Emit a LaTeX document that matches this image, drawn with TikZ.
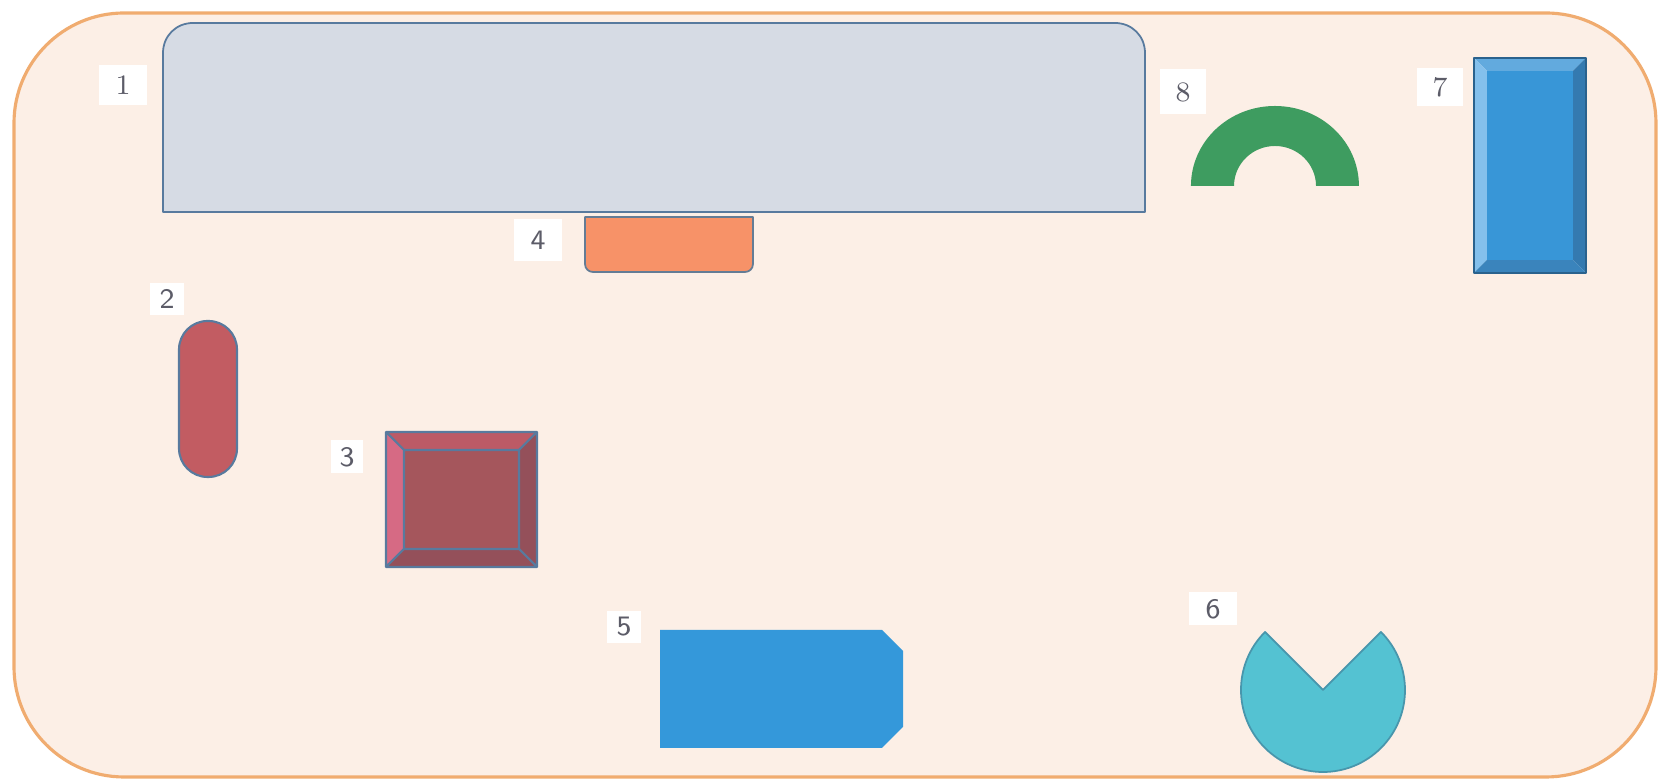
\documentclass[tikz,border=0pt]{standalone}
\usepackage{tikz}
\definecolor{framefill}{RGB}{252,239,230}
\definecolor{frameline}{RGB}{240,172,112}
\definecolor{slateline}{RGB}{88,122,158}
\definecolor{panelgray}{RGB}{214,219,228}
\definecolor{salmon}{RGB}{247,146,104}
\definecolor{pillred}{RGB}{194,92,98}
\definecolor{bevtop}{RGB}{188,90,102}
\definecolor{bevleft}{RGB}{214,106,132}
\definecolor{bevmid}{RGB}{165,86,92}
\definecolor{bevdark}{RGB}{148,80,90}
\definecolor{tagblue}{RGB}{52,152,218}
\definecolor{pieteal}{RGB}{84,194,210}
\definecolor{pieline}{RGB}{72,150,172}
\definecolor{archgreen}{RGB}{62,156,96}
\definecolor{bluetop}{RGB}{98,170,222}
\definecolor{blueleft}{RGB}{132,192,236}
\definecolor{bluemid}{RGB}{56,150,215}
\definecolor{blueright}{RGB}{52,122,176}
\definecolor{bluebot}{RGB}{58,132,188}
\definecolor{labelgray}{RGB}{92,92,104}

\begin{document}
\begin{tikzpicture}[x=0.01cm,y=-0.01cm,line join=round,
    numlabel/.style={fill=white,inner sep=0pt,minimum width=0.42cm,
      minimum height=0.38cm,text=labelgray,font=\footnotesize}]
        \useasboundingbox (0,0) rectangle (1659,780);
        \draw[frameline,fill=framefill,line width=0.9pt,rounded corners=1.1cm]
          (14,13) rectangle (1656,777);
        % 1: panel with rounded top corners
        \draw[slateline,fill=panelgray,line width=0.5pt]
          (163,212)--(163,53) .. controls (163,36) and (176,23) .. (193,23)
          --(1115,23) .. controls (1132,23) and (1145,36) .. (1145,53)--(1145,212)--cycle;
        % 4: tab below the panel
        \draw[slateline!70!gray,fill=salmon,line width=0.5pt]
          (585,217)--(753,217)--(753,264) .. controls (753,269) and (749,272) .. (745,272)
          --(593,272) .. controls (589,272) and (585,269) .. (585,264)--cycle;
        % 2: pill
        \draw[slateline,fill=pillred,line width=0.6pt,rounded corners=0.285cm]
          (179,321) rectangle (237,477);
        % 3: bevelled square
        \fill[bevtop] (386,432)--(537,432)--(519,450)--(404,450)--cycle;
        \fill[bevleft] (386,432)--(404,450)--(404,549)--(386,567)--cycle;
        \fill[bevdark] (537,432)--(537,567)--(519,549)--(519,450)--cycle;
        \fill[bevdark] (386,567)--(404,549)--(519,549)--(537,567)--cycle;
        \fill[bevmid] (404,450) rectangle (519,549);
        \draw[slateline,line width=0.6pt] (386,432) rectangle (537,567)
          (404,450) rectangle (519,549)
          (386,432)--(404,450) (537,432)--(519,450)
          (386,567)--(404,549) (537,567)--(519,549);
        % 5: snipped tag
        \fill[tagblue] (660,630)--(882,630)--(903,651)--(903,727)--(882,748)--(660,748)--cycle;
        % 6: pie with a notch on top
        \coordinate (pie) at (1323,690);
        \draw[pieline,fill=pieteal,line width=0.5pt]
          (pie)--++(-45:82) arc[start angle=-45,end angle=225,radius=82]--cycle;
        % 8: half ring
        \coordinate (arch) at (1275,186);
        \fill[archgreen] ([xshift=-0.84cm]arch) arc[start angle=180,end angle=360,x radius=84,y radius=80]
          --([xshift=0.41cm]arch) arc[start angle=360,end angle=180,x radius=41,y radius=40]--cycle;
        % 7: bevelled upright box
        \fill[bluetop] (1474,58)--(1586,58)--(1573,71)--(1487,71)--cycle;
        \fill[blueleft] (1474,58)--(1487,71)--(1487,260)--(1474,273)--cycle;
        \fill[blueright] (1586,58)--(1586,273)--(1573,260)--(1573,71)--cycle;
        \fill[bluebot] (1474,273)--(1487,260)--(1573,260)--(1586,273)--cycle;
        \fill[bluemid] (1487,71) rectangle (1573,260);
        \draw[blueright!80!black,line width=0.3pt] (1474,58) rectangle (1586,273);
        % number tags
        \node[numlabel,minimum width=0.47cm,minimum height=0.40cm] (lab1) at (123,85) {1};
        \node[numlabel,font=\footnotesize\sffamily,minimum width=0.34cm,minimum height=0.32cm] (lab2) at (167,299) {2};
        \node[numlabel,font=\footnotesize\sffamily,minimum width=0.31cm,minimum height=0.33cm] (lab3) at (347,457) {3};
        \node[numlabel,font=\footnotesize\sffamily,minimum width=0.47cm,minimum height=0.42cm] (lab4) at (538,240) {4};
        \node[numlabel,font=\footnotesize\sffamily,minimum width=0.34cm,minimum height=0.32cm] (lab5) at (624,627) {5};
        \node[numlabel,font=\footnotesize\sffamily,minimum width=0.47cm,minimum height=0.33cm] (lab6) at (1213,609) {6};
        \node[numlabel,minimum width=0.45cm,minimum height=0.38cm] (lab7) at (1440,87) {7};
        \node[numlabel,minimum width=0.45cm,minimum height=0.45cm] (lab8) at (1183,92) {8};
      \end{tikzpicture}
\end{document}
